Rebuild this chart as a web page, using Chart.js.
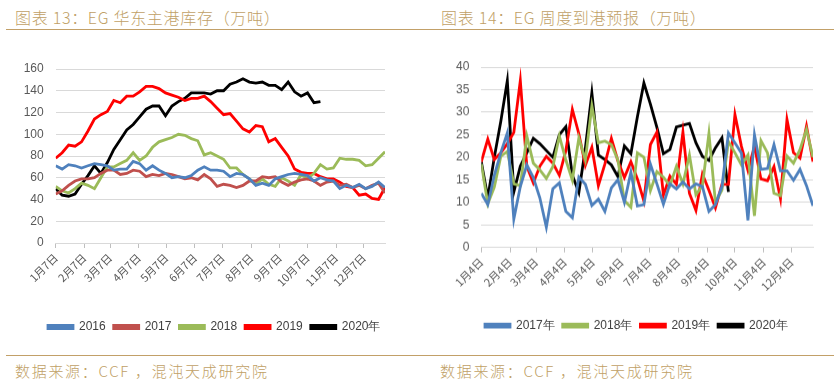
<!DOCTYPE html>
<html>
<head>
<meta charset="utf-8">
<script src="https://cdn.jsdelivr.net/npm/chart.js@4.4.1/dist/chart.umd.min.js"></script>
<style>
  body { margin: 0; background: #fff; width: 834px; height: 383px; position: relative; overflow: hidden;
         font-family: "Noto Sans CJK SC", sans-serif; }
  .title { position: absolute; top: 5px; font-size: 16px; font-weight: 300; color: #bf9f66; letter-spacing: 0.7px; white-space: nowrap; }
  .rule { position: absolute; height: 0; border-top: 1.5px solid #c2a068; }
  .src { position: absolute; top: 360px; font-size: 15px; font-weight: 300; color: #bf9f66; letter-spacing: 1.7px; white-space: nowrap; }
  .box { position: absolute; top: 35px; width: 417px; }
</style>
</head>
<body>
<div class="title" style="left:15px">图表 13：EG 华东主港库存（万吨）</div>
<div class="rule" style="left:6px;width:411px;top:29px"></div>
<div class="title" style="left:441px">图表 14：EG 周度到港预报（万吨）</div>
<div class="rule" style="left:417px;width:417px;top:29px"></div>

<div class="box" style="left:0;height:308px"><canvas id="left"></canvas></div>
<div class="box" style="left:417px;height:305.7px"><canvas id="right"></canvas></div>

<div class="rule" style="left:6px;width:411px;top:355px"></div>
<div class="rule" style="left:417px;width:417px;top:355px"></div>
<div class="src" style="left:15px">数据来源：CCF ，混沌天成研究院</div>
<div class="src" style="left:440px">数据来源：CCF ，混沌天成研究院</div>

<script>
// weekly points, offset in days from the first week of the year
const weekDays = Array.from({length: 52}, (_, i) => i * 7);

// chart 13: 华东主港库存 (万吨)
const invTickDays = [0, 31, 59, 90, 120, 151, 181, 212, 243, 273, 304, 334];
const invTickLabels = ['1月7日','2月7日','3月7日','4月7日','5月7日','6月7日','7月7日','8月7日','9月7日','10月7日','11月7日','12月7日'];
const inv2016 = [71,68,72,71,69,71,73,72,71,67,68,68,75,73,67,71,67,64,60,61,60,62,67,70,67,67,66,61,64,63,59,53,55,53,59,61,63,64,63,62,57,60,58,57,50,53,51,54,50,52,56,51];
const inv2017 = [45,48,53,57,59,59,60,64,67,67,63,64,67,66,61,63,62,64,63,61,59,60,58,63,59,52,54,53,51,53,57,57,61,60,61,56,53,56,58,59,57,53,56,57,53,54,51,53,50,53,55,46];
const inv2018 = [52,48,46,50,55,53,50,60,70,70,73,76,83,76,80,88,93,95,97,100,99,96,94,81,83,80,77,69,69,63,59,54,59,54,52,60,57,53,63,59,64,72,68,69,78,77,77,76,71,72,78,84];
const inv2019 = [78,83,90,89,93,103,114,118,121,131,129,135,135,139,144,144,142,138,136,134,131,133,133,135,130,124,118,119,112,105,102,108,107,93,96,88,80,68,65,64,64,61,59,59,56,52,51,44,45,41,40,51];
const inv2020 = [50,44,43,45,54,62,71,64,74,86,95,104,109,116,123,126,126,117,126,130,133,138,138,138,137,140,140,146,148,151,148,147,148,145,145,141,148,139,135,138,129,130];

// chart 14: 周度到港预报 (万吨)
const arrTickDays = [0, 31, 59, 90, 120, 151, 181, 212, 243, 273, 304, 334];
const arrTickLabels = ['1月4日','2月4日','3月4日','4月4日','5月4日','6月4日','7月4日','8月4日','9月4日','10月4日','11月4日','12月4日'];
const arr2017 = [12,9.5,16,21,25.4,6.3,13.5,18.3,15.5,11,4.5,13,14.3,8,6.6,15.6,14,9.3,10.7,8,13.2,15,10,16.7,9.2,9.5,18.5,14.1,9.6,14.1,13,14.5,13,14.1,13.5,8,9.5,13.5,25.4,23.2,20.9,6,25,17.3,17.5,22.8,17,17,14.9,17.3,13.7,9.2];
const arr2018 = [18.5,9.7,13.4,20.2,21.3,14.1,13.7,24.7,18.7,17.2,15.3,17.9,24.7,19.4,14.9,24.3,19.4,31.4,23.2,23.6,22.8,19.4,10.4,8.9,21,20,12.6,16.8,15.6,13.7,18,14.1,20.5,11.7,13.7,25.3,10,12.7,23.5,21,18.3,20.5,7,23.7,21,12,11.5,20.3,18.7,21.7,26.2,20];
const arr2019 = [19,24,19.5,21,23,25.5,37,18,14.3,18,20.2,18.7,16,21.5,30.6,25.2,18.2,22.2,13.7,18.5,24.2,19.2,15.5,19,15.2,10.3,22.8,25.6,11.6,15.8,14,25.6,12,8.2,16.3,12.7,8.8,14,14,29.5,22.4,17.1,22.4,15.2,14.8,17.9,10.8,28.4,21,19.8,26.9,19];
const arr2020 = [19,11,20,28,37,12.3,18,21,24.2,23,21.5,20,25,26.8,16,12.2,22,34.3,20.5,19.5,18.3,15.7,22.5,20.8,29,36.5,31.8,26.6,20.8,21.7,26.7,27.1,27.5,23.2,20.2,19.3,22.1,24.3,12.3];

const colors = {blue: '#4f81bd', brown: '#c0504d', green: '#9bbb59', red: '#ff0000', black: '#000000'};

function series(label, values, color) {
  return {
    label: label,
    data: values.map((v, i) => ({x: weekDays[i], y: v})),
    borderColor: color,
    backgroundColor: color,
    borderWidth: 2.8,
    pointRadius: 0,
    tension: 0,
    fill: false
  };
}

// moves the legend row so that it starts where the original one does
const legendStart = {
  id: 'legendStart',
  afterLayout(chart, args, opts) {
    const lg = chart.legend;
    if (!lg || !lg.lineWidths) return;
    const pad = lg.options.labels.padding;
    const cur = (lg.left + pad + lg.right - lg.lineWidths[0]) / 2;
    const dx = opts.x - cur;
    lg.left += dx;
    lg.right += dx;
  }
};

function makeChart(id, datasets, opts) {
  new Chart(document.getElementById(id), {
    type: 'line',
    data: {datasets: datasets},
    plugins: [legendStart],
    options: {
      responsive: true,
      maintainAspectRatio: false,
      animation: false,
      layout: {padding: {left: 0, right: opts.padRight, top: opts.padTop, bottom: 0}},
      plugins: {
        tooltip: {enabled: false},
        legendStart: {x: opts.legendX},
        legend: {
          position: 'bottom',
          labels: {
            boxWidth: 25,
            boxHeight: 3,
            padding: 8,
            color: '#404040',
            font: {family: 'Liberation Sans', size: 12}
          }
        }
      },
      scales: {
        x: {
          type: 'linear',
          min: 0,
          max: 357,
          afterBuildTicks: s => { s.ticks = opts.tickDays.map(v => ({value: v})); },
          afterFit: s => { s.height = opts.axisHeight; },
          grid: {drawOnChartArea: false, drawTicks: true, tickLength: 5, color: '#bfbfbf'},
          border: {color: '#d9d9d9'},
          ticks: {
            autoSkip: false,
            minRotation: 45,
            maxRotation: 45,
            padding: 3,
            color: '#595959',
            font: {family: 'Noto Sans CJK SC', size: 11},
            callback: (v, i) => opts.tickLabels[i]
          }
        },
        y: {
          min: 0,
          max: opts.yMax,
          afterFit: s => { s.width = opts.axisWidth; },
          grid: {color: '#d9d9d9', drawTicks: false},
          border: {display: false},
          ticks: {
            stepSize: opts.yStep,
            padding: 12,
            color: '#595959',
            font: {family: 'Liberation Sans', size: 12}
          }
        }
      }
    }
  });
}

makeChart('left', [
  series('2016', inv2016, colors.blue),
  series('2017', inv2017, colors.brown),
  series('2018', inv2018, colors.green),
  series('2019', inv2019, colors.red),
  series('2020年', inv2020, colors.black)
], {padRight: 32, padTop: 34, axisWidth: 55.7, axisHeight: 70, yMax: 160, yStep: 20, legendX: 48,
    tickDays: invTickDays, tickLabels: invTickLabels});

makeChart('right', [
  series('2017年', arr2017, colors.blue),
  series('2018年', arr2018, colors.green),
  series('2019年', arr2019, colors.red),
  series('2020年', arr2020, colors.black)
], {padRight: 21, padTop: 32, axisWidth: 64.3, axisHeight: 64, yMax: 40, yStep: 5, legendX: 68,
    tickDays: arrTickDays, tickLabels: arrTickLabels});
</script>
</body>
</html>
